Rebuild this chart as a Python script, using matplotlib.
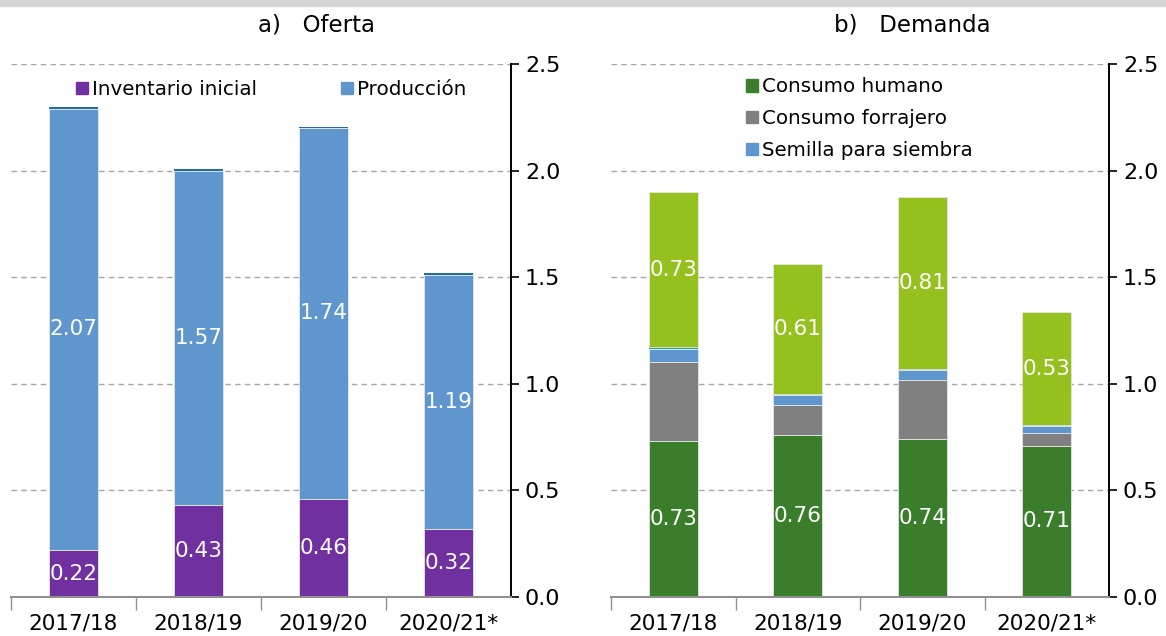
import matplotlib
matplotlib.use('Agg')
import matplotlib.pyplot as plt
import matplotlib.patches as mpatches
import numpy as np

# Datos (millones de toneladas)
campanas = ['2017/18', '2018/19', '2019/20', '2020/21*']

# a) Oferta
inventario_inicial = [0.22, 0.43, 0.46, 0.32]
produccion = [2.07, 1.57, 1.74, 1.19]
importaciones = [0.01, 0.006, 0.004, 0.01]

# b) Demanda
consumo_humano = [0.73, 0.76, 0.74, 0.71]
consumo_forrajero = [0.37, 0.14, 0.28, 0.06]
semilla = [0.065, 0.047, 0.043, 0.03]
mermas = [0.006, 0.005, 0.005, 0.005]
exportaciones = [0.73, 0.61, 0.81, 0.53]

plt.rcParams['font.family'] = ['DejaVu Sans']

c_morado = '#7030A0'
c_azul = '#6096CE'
c_azul_osc = '#1F6CB0'
c_verde = '#3A7D2A'
c_gris = '#808080'
c_verde_cl = '#95C11F'
c_turquesa = '#22A58A'
borde = '#e6e6e6'

fig = plt.figure(figsize=(11.66, 6.36), dpi=100)
ax1 = fig.add_axes([11/1166, 1 - 597/636, 500/1166, 533/636])
ax2 = fig.add_axes([611/1166, 1 - 597/636, 498/1166, 533/636])

x = np.arange(len(campanas))
ancho = 0.39


def etiquetas(ax, bars, bottoms, vals):
    for b, base, v in zip(bars, bottoms, vals):
        ax.text(b.get_x() + b.get_width() / 2, base + v / 2, '%.2f' % v,
                ha='center', va='center', color='white', fontsize=15.5)


def formato(ax):
    ax.set_xlim(-0.5, 3.5)
    ax.set_ylim(0, 2.5)
    ax.yaxis.tick_right()
    ax.set_yticks([0, 0.5, 1.0, 1.5, 2.0, 2.5])
    ax.set_yticklabels(['0.0', '0.5', '1.0', '1.5', '2.0', '2.5'])
    ax.tick_params(axis='y', direction='out', length=6, width=1.2, pad=4,
                   labelsize=16, colors='black')
    ax.set_xticks(x)
    ax.set_xticklabels(campanas)
    ax.tick_params(axis='x', length=0, pad=12, labelsize=15.5)
    ax.set_xticks([-0.5, 0.5, 1.5, 2.5], minor=True)
    ax.tick_params(axis='x', which='minor', length=9, width=1, color='#909090')
    for s in ['left', 'top']:
        ax.spines[s].set_visible(False)
    ax.spines['right'].set_linewidth(1.4)
    ax.spines['bottom'].set_color('#909090')
    ax.spines['bottom'].set_linewidth(1.5)
    ax.grid(axis='y', linestyle=(0, (4, 3)), color='#a6a6a6', linewidth=1)
    ax.set_axisbelow(True)


# Oferta
b1 = ax1.bar(x, inventario_inicial, ancho, color=c_morado, edgecolor=borde, linewidth=0.6)
bot = np.array(inventario_inicial)
b2 = ax1.bar(x, produccion, ancho, bottom=bot, color=c_azul, edgecolor=borde, linewidth=0.6)
bot2 = bot + np.array(produccion)
ax1.bar(x, importaciones, ancho, bottom=bot2, color=c_azul_osc, linewidth=0)
etiquetas(ax1, b1, np.zeros(4), inventario_inicial)
etiquetas(ax1, b2, bot, produccion)
formato(ax1)

h1 = [mpatches.Patch(color=c_morado, label='Inventario inicial'),
      mpatches.Patch(color=c_azul, label='Producción')]
ax1.legend(handles=h1, ncol=2, loc='upper left', bbox_to_anchor=(0.115, 0.985),
           frameon=False, fontsize=14.3, handlelength=0.6, handleheight=0.6,
           handletextpad=0.2, columnspacing=4.2, borderaxespad=0)

# Demanda
d1 = ax2.bar(x, consumo_humano, ancho, color=c_verde, edgecolor=borde, linewidth=0.6)
base = np.array(consumo_humano)
ax2.bar(x, consumo_forrajero, ancho, bottom=base, color=c_gris, edgecolor=borde, linewidth=0.6)
base = base + np.array(consumo_forrajero)
ax2.bar(x, semilla, ancho, bottom=base, color=c_azul, edgecolor=borde, linewidth=0.6)
base = base + np.array(semilla)
ax2.bar(x, mermas, ancho, bottom=base, color=c_turquesa, linewidth=0)
base = base + np.array(mermas)
d5 = ax2.bar(x, exportaciones, ancho, bottom=base, color=c_verde_cl, edgecolor=borde, linewidth=0.6)
etiquetas(ax2, d1, np.zeros(4), consumo_humano)
etiquetas(ax2, d5, base, exportaciones)
formato(ax2)

h2 = [mpatches.Patch(color=c_verde, label='Consumo humano'),
      mpatches.Patch(color=c_gris, label='Consumo forrajero'),
      mpatches.Patch(color=c_azul, label='Semilla para siembra')]
ax2.legend(handles=h2, loc='upper left', bbox_to_anchor=(0.255, 0.99),
           frameon=False, fontsize=14.3, handlelength=0.6, handleheight=0.6,
           handletextpad=0.2, labelspacing=0.65, borderaxespad=0)

# Titulos
fig.text(316/1166, 1 - 25/636, 'a)   Oferta', ha='center', va='center', fontsize=16.5)
fig.text(912/1166, 1 - 25/636, 'b)   Demanda', ha='center', va='center', fontsize=16.5)

# franja gris superior
fig.patches.append(mpatches.Rectangle((0, 1 - 6/636), 1, 6/636, transform=fig.transFigure,
                                      color='#d4d4d4', zorder=0))

fig.savefig('out.png', dpi=100)
